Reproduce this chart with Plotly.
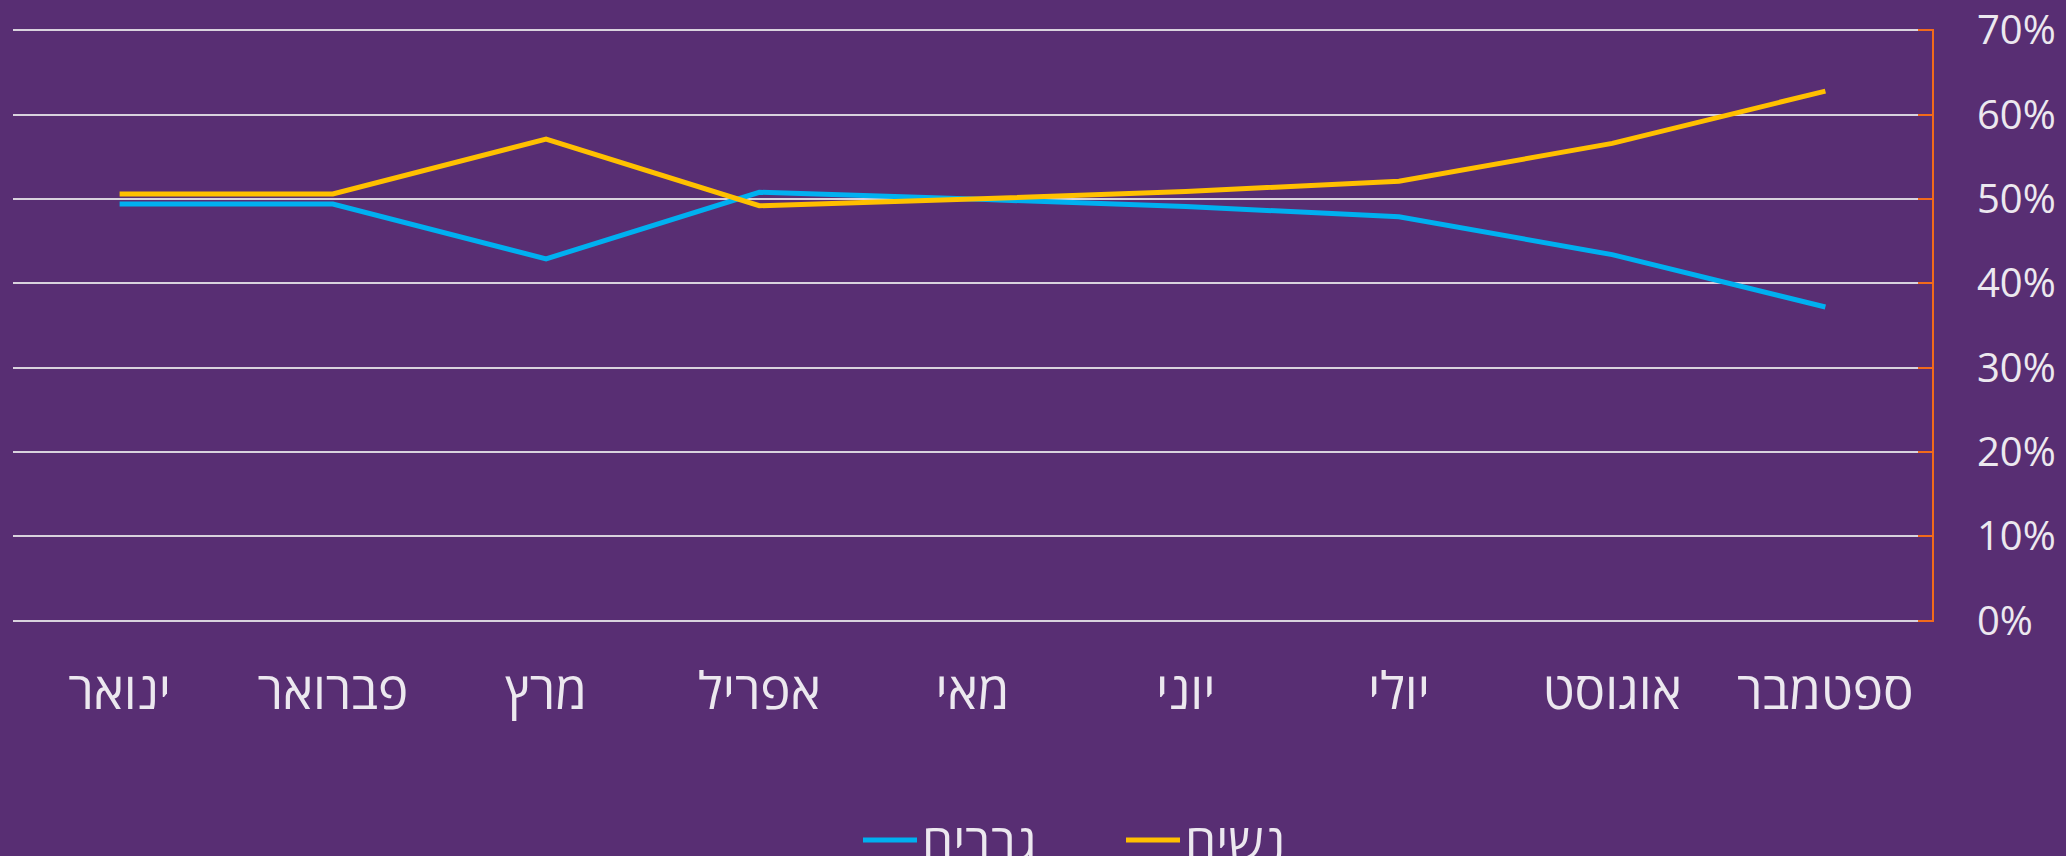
import plotly.graph_objects as go

months = ["ינואר", "פברואר", "מרץ", "אפריל", "מאי", "יוני", "יולי", "אוגוסט", "ספטמבר"]
men = [49.4, 49.4, 42.9, 50.8, 50.0, 49.1, 47.9, 43.4, 37.2]
women = [50.6, 50.6, 57.1, 49.2, 50.0, 50.9, 52.1, 56.6, 62.8]
men_name = "גברים"
women_name = "נשים"
y_ticks = [0, 10, 20, 30, 40, 50, 60, 70]

BG = "#582E73"
TXT = "#ECE8EF"
ORANGE = "#F26A1B"
FONT = "Open Sans, DejaVu Sans, Liberation Sans, sans-serif"

fig = go.Figure()
fig.add_trace(go.Scatter(x=months, y=men, name=men_name, mode="lines",
                         line=dict(color="#00B0F0", width=5)))
fig.add_trace(go.Scatter(x=months, y=women, name=women_name, mode="lines",
                         line=dict(color="#FFC000", width=5)))

W, H = 2066, 856
PAD = 0.16  # keeps the 0% and 70% grid lines from being clipped at the edges
L, R, T, B = 13, 2066 - 1932, 29, 856 - 622

fig.update_layout(
    width=W, height=H,
    paper_bgcolor=BG, plot_bgcolor=BG,
    margin=dict(l=L, r=R, t=T, b=B, autoexpand=False),
    font=dict(family=FONT, color=TXT, size=40),
    showlegend=True,
    legend=dict(orientation="h", x=(858 - L) / (W - L - R), xanchor="left",
                y=-(801 - (H - B)) / (H - B - T), yanchor="top",
                font=dict(size=50, color=TXT), bgcolor="rgba(0,0,0,0)",
                itemwidth=54, entrywidth=194, traceorder="normal"),
    xaxis=dict(type="category", range=[-0.5, 8.5], showgrid=False, zeroline=False,
               showline=False, ticks="", tickfont=dict(size=51, color=TXT),
               ticklabelstandoff=35),
    yaxis=dict(side="right", range=[-PAD, 70 + PAD], tickvals=y_ticks,
               ticktext=[f"{v}%" for v in y_ticks],
               showgrid=True, gridcolor="#D9D3DE", gridwidth=2, zeroline=False,
               showline=True, linecolor=ORANGE, linewidth=2,
               ticks="inside", ticklen=14, tickwidth=2, tickcolor=ORANGE,
               tickfont=dict(size=40, color=TXT), ticklabelstandoff=35),
)

fig.write_html("out.html", config={"displayModeBar": False},
               post_script="document.body.style.margin='0';document.body.style.padding='0';")
